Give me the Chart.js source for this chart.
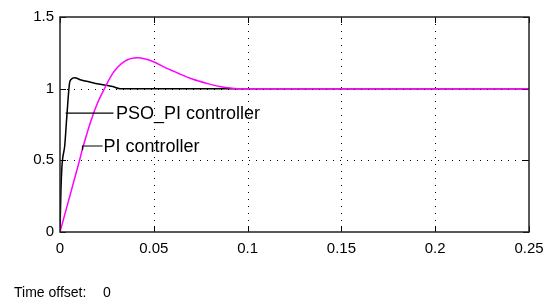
<!DOCTYPE html>
<html>
<head>
<meta charset="utf-8">
<script src="https://cdn.jsdelivr.net/npm/chart.js@4"></script>
<style>
  html, body { margin: 0; padding: 0; background: #fff; }
  #wrap { width: 543px; height: 304px; }
</style>
</head>
<body>
<div id="wrap"><canvas id="myChart" width="543" height="304"></canvas></div>
<script>
// step responses
const timePso = [0, 0.0005, 0.001, 0.0015, 0.0025, 0.0036, 0.0051, 0.006, 0.0077, 0.0113, 0.0148, 0.0184, 0.0237, 0.028, 0.032, 0.25];
const valuesPso = [0, 0.29, 0.45, 0.52, 0.6, 0.8, 1.04, 1.066, 1.077, 1.06, 1.05, 1.038, 1.026, 1.015, 1.0, 1.0];
const timePi = [0, 0.005, 0.01, 0.0122, 0.0166, 0.02, 0.0237, 0.0282, 0.0344, 0.0415, 0.0495, 0.0567, 0.0638, 0.0709, 0.078, 0.0851, 0.095, 0.25];
const valuesPi = [0, 0.24, 0.48, 0.59, 0.78, 0.9, 1.0, 1.108, 1.19, 1.215, 1.19, 1.143, 1.103, 1.066, 1.038, 1.015, 1.0, 1.0];

const xTicks = [0, 0.05, 0.1, 0.15, 0.2, 0.25];
const yTicks = [0, 0.5, 1, 1.5];

const labelPso = "PSO_PI controller";
const labelPi = "PI controller";
const offsetText = "Time offset:";
const offsetValue = "0";

const FONT = "'Liberation Sans', Arial, sans-serif";

function toPoints(xs, ys) {
  return xs.map((x, i) => ({ x: x, y: ys[i] }));
}

const scopePlugin = {
  id: "scope",
  beforeDatasetsDraw(chart) {
    const ctx = chart.ctx;
    const a = chart.chartArea;
    const xs = chart.scales.x;
    const ys = chart.scales.y;
    ctx.save();
    ctx.strokeStyle = "#000";
    ctx.lineWidth = 1;
    // dotted grid
    ctx.setLineDash([1, 6]);
    xTicks.slice(1, -1).forEach((v) => {
      const px = Math.round(xs.getPixelForValue(v)) + 0.5;
      ctx.beginPath();
      ctx.moveTo(px, a.top);
      ctx.lineTo(px, a.bottom);
      ctx.stroke();
    });
    yTicks.slice(1, -1).forEach((v) => {
      const py = Math.round(ys.getPixelForValue(v)) + 0.5;
      ctx.beginPath();
      ctx.moveTo(a.left, py);
      ctx.lineTo(a.right, py);
      ctx.stroke();
    });
    // inside tick marks
    ctx.setLineDash([]);
    const tl = 6;
    xTicks.forEach((v) => {
      const px = Math.round(xs.getPixelForValue(v)) + 0.5;
      ctx.beginPath();
      ctx.moveTo(px, a.bottom);
      ctx.lineTo(px, a.bottom - tl);
      ctx.moveTo(px, a.top);
      ctx.lineTo(px, a.top + tl);
      ctx.stroke();
    });
    yTicks.forEach((v) => {
      const py = Math.round(ys.getPixelForValue(v)) + 0.5;
      ctx.beginPath();
      ctx.moveTo(a.left, py);
      ctx.lineTo(a.left + tl, py);
      ctx.moveTo(a.right, py);
      ctx.lineTo(a.right - tl, py);
      ctx.stroke();
    });
    ctx.restore();
  },
  afterDatasetsDraw(chart) {
    const ctx = chart.ctx;
    const a = chart.chartArea;
    const xs = chart.scales.x;
    const ys = chart.scales.y;
    ctx.save();
    // axes box
    ctx.strokeStyle = "#222";
    ctx.lineWidth = 1.5;
    ctx.strokeRect(a.left, a.top, a.right - a.left, a.bottom - a.top);

    // curve labels with leader lines
    ctx.strokeStyle = "#000";
    ctx.lineWidth = 1.2;
    ctx.fillStyle = "#000";
    ctx.font = "18px " + FONT;
    ctx.textBaseline = "middle";

    let y1 = ys.getPixelForValue(0.83);
    ctx.beginPath();
    ctx.moveTo(xs.getPixelForValue(0.003), y1);
    ctx.lineTo(xs.getPixelForValue(0.0285), y1);
    ctx.stroke();
    ctx.fillText(labelPso, xs.getPixelForValue(0.0298), y1 + 1);

    let y2 = ys.getPixelForValue(0.6);
    ctx.beginPath();
    ctx.moveTo(xs.getPixelForValue(0.012), y2 + 4);
    ctx.lineTo(xs.getPixelForValue(0.012), y2);
    ctx.lineTo(xs.getPixelForValue(0.0227), y2);
    ctx.stroke();
    ctx.fillText(labelPi, xs.getPixelForValue(0.0232), y2 + 1);
    ctx.restore();
  },
  afterDraw(chart) {
    const ctx = chart.ctx;
    ctx.save();
    ctx.fillStyle = "#000";
    ctx.font = "14px " + FONT;
    ctx.textBaseline = "middle";
    ctx.fillText(offsetText, 14, 293);
    ctx.fillText(offsetValue, 103, 293);
    ctx.restore();
  },
};

const ctx = document.getElementById("myChart").getContext("2d");

const myChart = new Chart(ctx, {
  type: "line",
  data: {
    datasets: [
      {
        label: labelPi,
        data: toPoints(timePi, valuesPi),
        borderColor: "#ff00ff",
        borderWidth: 1.5,
        pointRadius: 0,
        cubicInterpolationMode: "monotone",
        order: 0,
      },
      {
        label: labelPso,
        data: toPoints(timePso, valuesPso),
        borderColor: "#000",
        borderWidth: 1.5,
        pointRadius: 0,
        cubicInterpolationMode: "monotone",
        order: 1,
      },
    ],
  },
  options: {
    responsive: false,
    animation: false,
    layout: { padding: { top: 17, right: 14, left: 0, bottom: 0 } },
    plugins: {
      legend: { display: false },
      tooltip: { enabled: false },
    },
    scales: {
      x: {
        type: "linear",
        min: 0,
        max: 0.25,
        afterBuildTicks: (s) => { s.ticks = xTicks.map((v) => ({ value: v })); },
        afterFit: (s) => {
          s.height = 72;
          s.paddingLeft = 0;
          s.paddingRight = 0;
        },
        grid: { display: false, drawTicks: false },
        border: { display: false },
        ticks: {
          color: "#000",
          font: { family: FONT, size: 15 },
          padding: 8,
          maxRotation: 0,
          autoSkip: false,
          callback: (v) => String(v),
        },
      },
      y: {
        type: "linear",
        min: 0,
        max: 1.5,
        afterBuildTicks: (s) => { s.ticks = yTicks.map((v) => ({ value: v })); },
        afterFit: (s) => {
          s.width = 60;
          s.paddingTop = 0;
          s.paddingBottom = 0;
        },
        grid: { display: false, drawTicks: false },
        border: { display: false },
        ticks: {
          color: "#000",
          font: { family: FONT, size: 15 },
          padding: 6,
          autoSkip: false,
          callback: (v) => String(v),
        },
      },
    },
  },
  plugins: [scopePlugin],
});
</script>
</body>
</html>
